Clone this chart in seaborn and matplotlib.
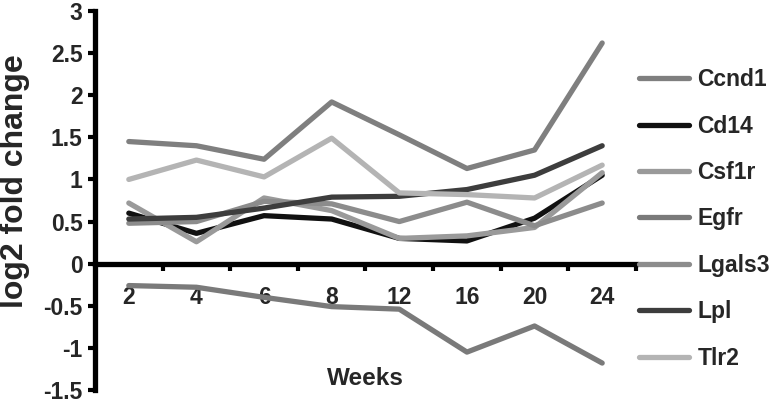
import pandas as pd
import matplotlib
matplotlib.use("Agg")
import matplotlib.pyplot as plt
import seaborn as sns
from matplotlib.ticker import FixedLocator

# data
weeks = ["2", "4", "6", "8", "12", "16", "20", "24"]
genes = ["Ccnd1", "Cd14", "Csf1r", "Egfr", "Lgals3", "Lpl", "Tlr2"]
ccnd1 = [1.45, 1.40, 1.24, 1.92, 1.53, 1.13, 1.35, 2.62]
cd14 = [0.60, 0.36, 0.57, 0.53, 0.30, 0.27, 0.54, 1.05]
csf1r = [0.72, 0.26, 0.78, 0.63, 0.30, 0.33, 0.43, 1.08]
egfr = [-0.26, -0.28, -0.40, -0.51, -0.54, -1.05, -0.74, -1.18]
lgals3 = [0.48, 0.50, 0.74, 0.71, 0.50, 0.73, 0.45, 0.72]
lpl = [0.53, 0.55, 0.66, 0.79, 0.80, 0.88, 1.05, 1.40]
tlr2 = [1.00, 1.23, 1.03, 1.49, 0.84, 0.82, 0.78, 1.17]
yticks = [-1.5, -1, -0.5, 0, 0.5, 1, 1.5, 2, 2.5, 3]
ytick_labels = ["-1.5", "-1", "-0.5", "0", "0.5", "1", "1.5", "2", "2.5", "3"]

colors = {"Ccnd1": "#7f7f7f", "Cd14": "#111111", "Csf1r": "#9a9a9a",
          "Egfr": "#7a7a7a", "Lgals3": "#8c8c8c", "Lpl": "#3d3d3d",
          "Tlr2": "#b4b4b4"}

series = [ccnd1, cd14, csf1r, egfr, lgals3, lpl, tlr2]
rows = []
for g, vals in zip(genes, series):
    for w, v in zip(weeks, vals):
        rows.append({"Weeks": w, "Gene": g, "value": v})
df = pd.DataFrame(rows)

sns.set_style("white")
plt.rcParams["font.family"] = ["Liberation Sans", "DejaVu Sans"]
plt.rcParams["font.weight"] = "bold"

fig = plt.figure(figsize=(7.74, 4.03), dpi=100)
ax = fig.add_axes([95 / 774, 13 / 403, 541 / 774, 379 / 403])

sns.lineplot(data=df, x="Weeks", y="value", hue="Gene", hue_order=genes,
             palette=colors, linewidth=3.8, sort=False, ax=ax,
             solid_capstyle="round", legend=True)

ax.set_xlim(-0.5, 7.5)
ax.set_ylim(-1.5, 3)

# axes look: y spine on the left, x spine through zero
for s in ["top", "right"]:
    ax.spines[s].set_visible(False)
ax.spines["bottom"].set_position(("data", 0))
ax.spines["left"].set_linewidth(3.8)
ax.spines["bottom"].set_linewidth(3.8)
ax.spines["left"].set_color("black")
ax.spines["bottom"].set_color("black")

ax.set_yticks(yticks)
ax.set_yticklabels(ytick_labels)
ax.tick_params(axis="y", direction="out", length=5, width=3, pad=4,
               labelsize=16.5, left=True, color="black")

ax.set_xticks(range(len(weeks)))
ax.set_xticklabels(weeks)
ax.tick_params(axis="x", which="major", length=0, pad=16, labelsize=16.5)
ax.xaxis.set_minor_locator(FixedLocator([i + 0.5 for i in range(len(weeks))]))
ax.tick_params(axis="x", which="minor", direction="out", length=5, width=3,
               bottom=True, color="black")

for lab in ax.get_xticklabels() + ax.get_yticklabels():
    lab.set_fontweight("bold")

ax.set_xlabel("Weeks", fontsize=17.5, fontweight="bold")
ax.xaxis.set_label_coords(0.5, 0.06)
ax.set_ylabel("log2 fold change", fontsize=23, fontweight="bold")
ax.yaxis.set_label_coords(-0.12, 0.55)
ax.grid(False)

leg = ax.legend(loc="center left", bbox_to_anchor=(639 / 774, 1 - 219 / 403),
                bbox_transform=fig.transFigure, frameon=False, fontsize=16.5,
                handlelength=2.2, handletextpad=0.35, labelspacing=1.02,
                borderpad=0, borderaxespad=0)
for t in leg.get_texts():
    t.set_fontweight("bold")
for h in leg.get_lines():
    h.set_linewidth(3.8)

fig.savefig("out.png", dpi=100)
